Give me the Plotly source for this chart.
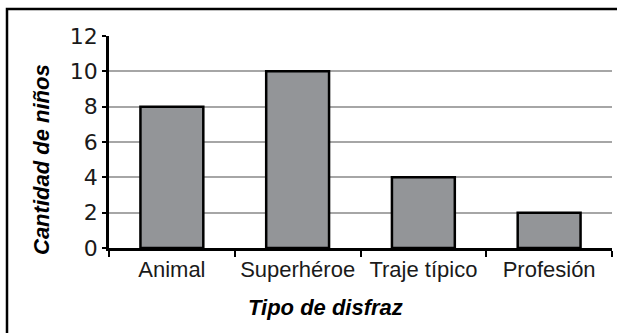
import plotly.graph_objects as go

categorias = ["Animal", "Superhéroe", "Traje típico", "Profesión"]
ninos = [8, 10, 4, 2]
y_ticks = [0, 2, 4, 6, 8, 10, 12]

W, H = 617, 333
ML, MR, MT, MB = 109, 5, 36, 85
pw, ph = W - ML - MR, H - MT - MB


def px_x(x):
    return (x - ML) / pw


def px_y(y):
    return (H - MB - y) / ph


fig = go.Figure(
    go.Bar(
        x=categorias,
        y=ninos,
        marker=dict(color="#939598", line=dict(color="black", width=2.5)),
        width=0.5,
    )
)

fig.update_layout(
    width=W,
    height=H,
    margin=dict(l=ML, r=MR, t=MT, b=MB),
    paper_bgcolor="white",
    plot_bgcolor="white",
    showlegend=False,
    xaxis=dict(
        type="category",
        tickson="boundaries",
        ticks="outside",
        ticklen=6,
        tickwidth=2,
        tickcolor="black",
        showline=True,
        linecolor="black",
        linewidth=2.5,
        showgrid=False,
        tickfont=dict(family="Liberation Sans", size=22, color="#1a1a1a"),
    ),
    yaxis=dict(
        range=[0, 12],
        tickvals=y_ticks,
        ticks="outside",
        ticklen=4,
        tickwidth=1.5,
        tickcolor="black",
        showline=True,
        linecolor="black",
        linewidth=2.5,
        showgrid=True,
        gridcolor="#a6a6a6",
        gridwidth=1.5,
        zeroline=False,
        ticklabelstandoff=0,
        tickfont=dict(family="DejaVu Sans", size=22, color="#1a1a1a"),
    ),
    shapes=[
        dict(
            type="rect",
            xref="paper",
            yref="paper",
            x0=px_x(7),
            x1=px_x(W + 5),
            y0=px_y(H + 5),
            y1=px_y(9),
            line=dict(color="black", width=2.5),
            fillcolor="rgba(0,0,0,0)",
            layer="below",
        )
    ],
    annotations=[
        dict(
            text="<b><i>Tipo de disfraz</i></b>",
            xref="paper",
            yref="paper",
            x=px_x(325),
            y=px_y(307),
            xanchor="center",
            yanchor="middle",
            showarrow=False,
            font=dict(family="Liberation Sans", size=22, color="black"),
        ),
        dict(
            text="<b><i>Cantidad de niños</i></b>",
            xref="paper",
            yref="paper",
            x=px_x(41),
            y=px_y(160),
            xanchor="center",
            yanchor="middle",
            textangle=-90,
            showarrow=False,
            font=dict(family="Liberation Sans", size=22, color="black"),
        ),
    ],
)

fig.write_html("out.html")
